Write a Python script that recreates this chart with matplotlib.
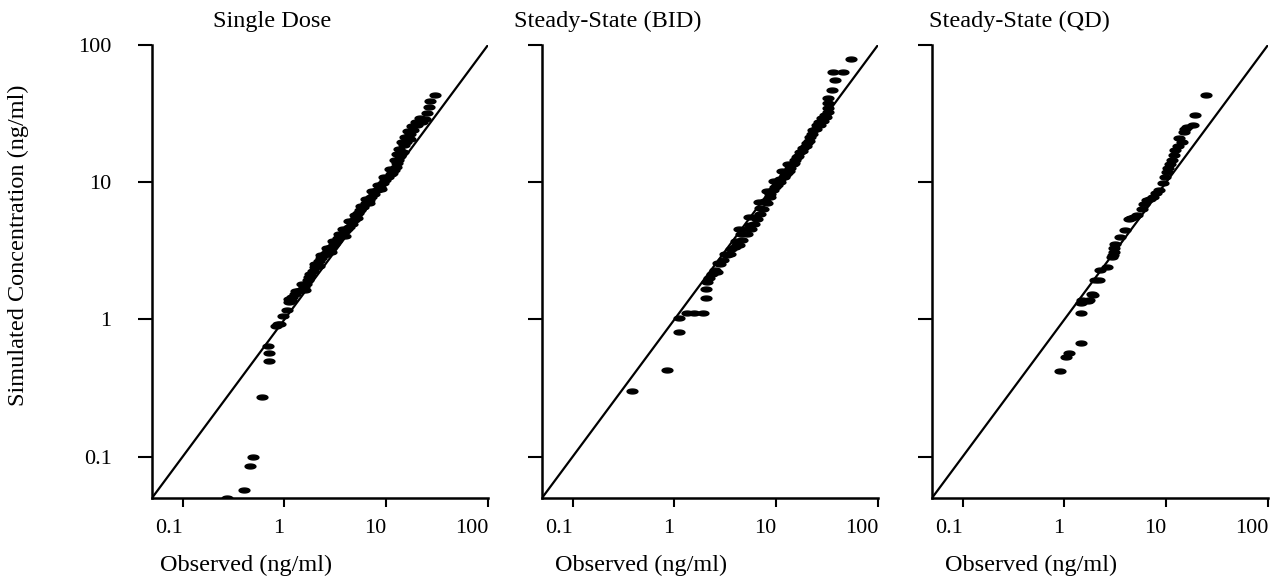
import numpy as np
import matplotlib
matplotlib.use("Agg")
import matplotlib.pyplot as plt
from matplotlib.path import Path

plt.rcParams["font.family"] = ["Liberation Serif", "DejaVu Serif"]

# --- data (observed vs simulated, ng/ml) ---
titles = ["Single Dose", "Steady-State (BID)", "Steady-State (QD)"]
tick_vals = [0.1, 1, 10, 100]
tick_labels = ["0.1", "1", "10", "100"]

sd_obs = [0.27, 0.40, 0.46, 0.49, 0.60, 0.70, 0.70, 0.69, 0.83, 0.86, 0.90, 0.97, 1.05, 1.12,
          1.15, 1.2, 1.28, 1.36, 1.45, 1.55, 1.62, 1.7, 1.8, 1.9, 2.0, 2.09, 2.2, 2.3, 2.43,
          2.55, 2.7, 2.85, 3.04, 3.2, 3.35, 3.5, 3.68, 3.9, 4.1, 4.35, 4.6, 4.8, 5.0, 5.3,
          5.56, 5.9, 6.3, 6.7, 7.1, 7.6, 8.1, 8.6, 9.2, 9.8, 10.4, 11.1, 11.8, 12.4, 12.9,
          13.2, 13.6, 14.1, 14.8, 15.5, 16.3, 17.2, 18.5, 20.0, 22.4, 24.0, 25.0, 26.6, 27.0,
          30.0,
          1.1, 1.3, 1.5, 1.75, 2.0, 2.3, 2.6, 3.0, 3.4, 3.8, 4.3, 4.9, 5.6, 6.4, 7.3, 8.3,
          9.5, 10.8, 12.2, 12.8, 13.4, 14.2, 15.2, 16.5, 18.0, 19.5, 21.5,
          1.6, 2.2, 2.9, 3.9, 5.2, 6.8, 8.8, 11.5, 14.5, 17.0]
sd_sim = [0.05, 0.057, 0.085, 0.10, 0.27, 0.50, 0.57, 0.64, 0.90, 0.93, 0.92, 1.06, 1.18, 1.33,
          1.38, 1.45, 1.54, 1.6, 1.65, 1.72, 1.8, 1.95, 2.15, 2.25, 2.4, 2.5, 2.65, 2.8, 2.93,
          3.05, 3.2, 3.35, 3.55, 3.7, 3.9, 4.05, 4.2, 4.4, 4.55, 4.75, 5.0, 5.3, 5.6, 5.95,
          6.25, 6.6, 7.0, 7.4, 7.8, 8.2, 8.75, 9.2, 9.8, 10.4, 10.9, 11.5, 12.2, 13.0, 13.8,
          14.5, 15.5, 16.6, 18.6, 19.8, 21.0, 22.6, 24.0, 26.0, 27.6, 29.0, 31.7, 35.5, 39.0,
          43.0,
          1.42, 1.62, 1.8, 2.05, 2.55, 2.95, 3.3, 3.75, 4.2, 4.6, 5.2, 5.8, 6.7, 7.6, 8.6, 9.6,
          11.0, 12.4, 14.6, 16.0, 17.5, 19.5, 21.5, 23.5, 25.5, 27.5, 29.5,
          1.65, 2.45, 3.1, 4.05, 5.5, 7.0, 9.0, 11.6, 16.5, 20.5]

bid_obs = [0.38, 0.85, 1.11, 1.10, 1.33, 1.55, 1.91, 2.03, 2.04, 2.08, 2.34, 2.5, 2.7, 2.83,
           3.17, 3.3, 3.6, 3.9, 4.12, 4.3, 4.6, 5.17, 5.6, 6.0, 6.5, 6.97, 7.5, 8.1, 8.7, 9.4,
           10.2, 11.0, 11.8, 12.7, 13.6, 14.5, 15.3, 16.0, 17.2, 18.5, 20.0, 21.5, 23.2, 25.0,
           26.5, 28.0, 30.0, 32.6, 32.6, 32.6, 32.5, 35.0, 38.0, 36.5, 45.7, 54.0,
           2.2, 2.6, 3.0, 3.5, 4.0, 4.5, 5.0, 5.5, 6.2, 7.0, 7.8, 8.6, 9.8, 11.0, 12.2, 13.5,
           15.0, 16.5, 18.0, 19.5, 21.0, 22.5, 24.5, 27.0, 29.0, 31.0,
           4.3, 5.4, 6.8, 8.2, 9.6, 11.5, 13.0]
bid_sim = [0.30, 0.43, 0.81, 1.02, 1.11, 1.11, 1.11, 1.43, 1.67, 1.87, 2.15, 2.3, 2.6, 2.55,
           3.02, 2.95, 3.25, 3.4, 3.47, 3.5, 3.8, 4.22, 4.6, 4.99, 5.4, 5.9, 6.4, 7.0, 7.8, 8.75,
           9.6, 10.5, 11.0, 11.6, 12.6, 13.6, 14.5, 15.3, 16.5, 17.8, 19.2, 21.5, 24.0, 26.0,
           27.5, 29.2, 31.0, 32.6, 35.0, 37.5, 41.0, 47.0, 55.6, 64.0, 64.0, 79.0,
           2.0, 2.2, 2.7, 3.0, 3.7, 4.2, 4.6, 4.9, 5.6, 6.5, 7.3, 8.2, 9.2, 10.0, 11.2, 12.0,
           13.8, 15.5, 17.0, 18.5, 20.0, 22.5, 24.5, 26.0, 28.0, 30.0,
           4.6, 5.6, 7.2, 8.6, 10.2, 12.0, 13.6]

qd_obs = [0.91, 1.04, 1.12, 1.45, 1.45, 1.45, 1.71, 1.49, 1.73, 1.87, 1.89, 2.01, 2.17, 2.25,
          2.62, 2.93, 3.0, 3.05, 3.1, 3.16, 3.54, 3.97, 4.28, 4.5, 4.8, 5.16, 5.78, 6.0, 6.47,
          7.0, 7.5, 8.0, 8.4, 9.4, 9.8, 10.2, 10.5, 11.0, 11.4, 11.8, 12.3, 13.0, 13.5, 14.3,
          14.8, 15.2, 16.0, 18.5, 19.3, 24.7]
qd_sim = [0.42, 0.53, 0.57, 0.67, 1.11, 1.32, 1.36, 1.38, 1.38, 1.54, 1.5, 1.93, 1.93, 2.28,
          2.41, 2.85, 2.95, 3.1, 3.3, 3.57, 3.99, 4.47, 5.44, 5.5, 5.6, 5.74, 6.43, 6.9, 7.4,
          7.6, 7.8, 8.3, 8.75, 9.8, 11.0, 11.8, 12.6, 13.5, 14.5, 15.8, 17.1, 18.5, 21.0, 19.7,
          23.3, 24.3, 25.3, 26.1, 30.8, 43.0]

panels = [(sd_obs, sd_sim), (bid_obs, bid_sim), (qd_obs, qd_sim)]

# layout (pixels of the 1273x576 reference)
W, H = 1273, 576
lefts = [152, 542, 932]
title_x = [0.357, 0.196, 0.259]
xlabel_x = [0.28, 0.294, 0.294]

# flat ellipse marker
t = np.linspace(0, 2 * np.pi, 41)
ellipse = Path(np.column_stack([np.cos(t), 0.45 * np.sin(t)]), closed=True)

fig = plt.figure(figsize=(W / 100, H / 100), dpi=100)
for i, (obs, sim) in enumerate(panels):
    ax = fig.add_axes([lefts[i] / W, 78 / H, 336 / W, 453 / H])
    ax.set_xscale("log"); ax.set_yscale("log")
    ax.set_xlim(0.05, 100); ax.set_ylim(0.05, 100)
    ax.plot([0.05, 100], [0.05, 100], color="black", lw=1.6)
    ax.plot(obs, sim, ls="none", marker=ellipse, ms=7.8, color="black")
    for s in ("top", "right"):
        ax.spines[s].set_visible(False)
    for s in ("left", "bottom"):
        ax.spines[s].set_linewidth(1.8)
    ax.set_xticks(tick_vals, tick_labels, ha="right")
    ax.set_yticks(tick_vals, tick_labels if i == 0 else [""] * 4)
    ax.minorticks_off()
    ax.tick_params(axis="x", length=6.5, width=1.5, pad=8.5, labelsize=16)
    ax.tick_params(axis="y", length=10, width=1.5, pad=19, labelsize=16)
    ax.text(title_x[i], 1.051, titles[i], transform=ax.transAxes, ha="center", va="center",
            fontsize=17.5)
    ax.text(xlabel_x[i], -0.148, "Observed (ng/ml)", transform=ax.transAxes, ha="center",
            va="center", fontsize=17.5)

fig.text(18 / W, 1 - 245 / H, "Simulated Concentration (ng/ml)", rotation=90, ha="center",
         va="center", fontsize=17.5)

fig.savefig("out.png", dpi=100)
